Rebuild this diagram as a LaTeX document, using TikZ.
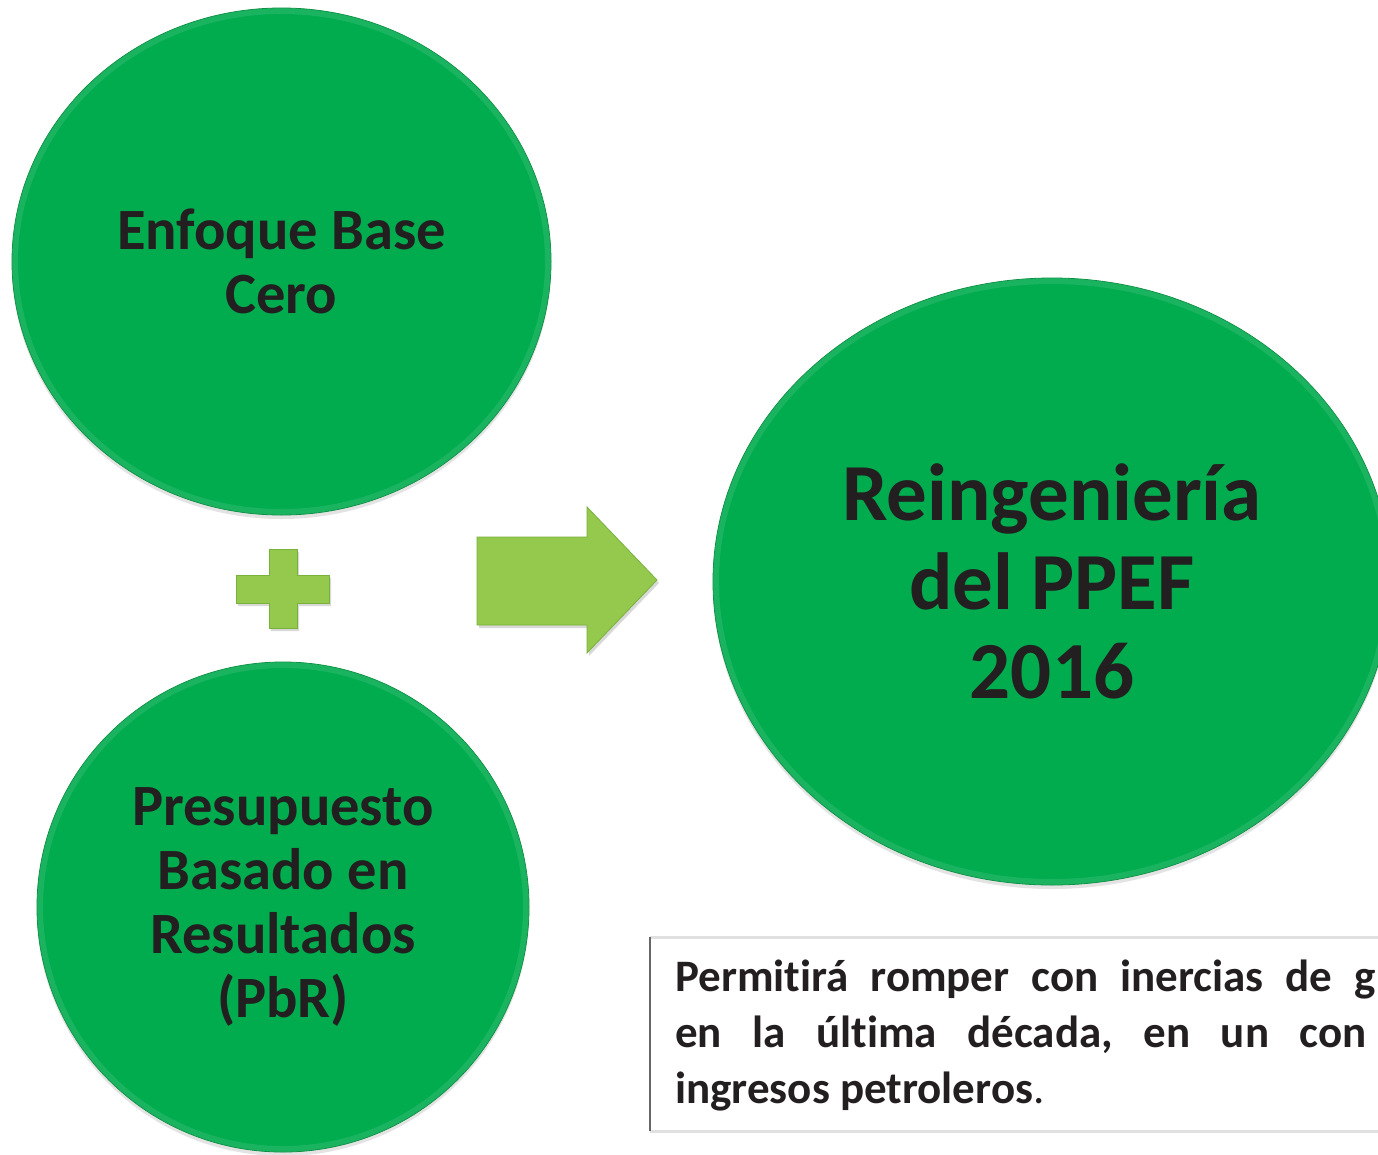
\documentclass[tikz,border=0pt]{standalone}
\usepackage{fontspec}
\setmainfont{Carlito}[Ligatures={NoCommon,NoRare},Contextuals={NoAlternate},RawFeature={-liga;-calt;-dlig;-clig}]
\usetikzlibrary{shapes.geometric,shadows}
\definecolor{cgreen}{RGB}{0,172,78}
\definecolor{cedge}{RGB}{0,140,60}
\definecolor{lgreen}{RGB}{148,201,78}
\definecolor{ledge}{RGB}{120,178,58}
\definecolor{ink}{RGB}{35,31,32}
\begin{document}
\begin{tikzpicture}[x=1pt,y=-1pt,
  bubble/.style={ellipse, fill=cgreen, draw=cedge, line width=0.8pt, inner sep=0pt,
    text=ink, align=center,
    drop shadow={opacity=0.22, shadow xshift=0pt, shadow yshift=-4pt}},
  rim/.style={line width=12pt, color=white, opacity=0.10},
  sign/.style={fill=lgreen, draw=ledge, line width=0.8pt,
    drop shadow={opacity=0.3, shadow xshift=2pt, shadow yshift=-3pt}},
  bodytext/.style={anchor=base west, inner sep=0pt, text=ink,
    font=\bfseries\fontsize{45}{57}\selectfont},
]
\clip (0,0) rectangle (1378,1154);
\fill[white] (0,0) rectangle (1378,1154);

% circles
\node[bubble, minimum width=539pt, minimum height=507pt,
  font=\bfseries\fontsize{58.5}{64}\selectfont] (c1) at (281.5,261.5) {Enfoque Base\\Cero};
\begin{scope}
  \clip (c1.center) ellipse [x radius=269.5, y radius=253.5];
  \draw[rim] (c1.center) ellipse [x radius=269.5, y radius=253.5];
\end{scope}

\node[bubble, minimum width=492pt, minimum height=490pt,
  font=\bfseries\fontsize{58.5}{64}\selectfont] (c2) at (283,907) {Presupuesto\\Basado en\\Resultados\\(PbR)};
\begin{scope}
  \clip (c2.center) ellipse [x radius=246, y radius=245];
  \draw[rim] (c2.center) ellipse [x radius=246, y radius=245];
\end{scope}

\node[bubble, minimum width=678pt, minimum height=607pt,
  font=\bfseries\fontsize{81}{89}\selectfont] (c3) at (1052,581.5) {Reingeniería\\del PPEF\\2016};
\begin{scope}
  \clip (c3.center) ellipse [x radius=339, y radius=303.5];
  \draw[rim] (c3.center) ellipse [x radius=339, y radius=303.5];
\end{scope}

% plus sign
\path[sign] (236,575) -- (269,575) -- (269,549) -- (297,549) -- (297,575) -- (329,575)
  -- (329,603) -- (297,603) -- (297,628) -- (269,628) -- (269,603) -- (236,603) -- cycle;

% block arrow
\path[sign] (477,537) -- (587,537) -- (587,507) -- (657,580) -- (587,653) -- (587,625)
  -- (477,625) -- cycle;

% text box
\coordinate (tbnw) at (650,937);
\coordinate (tbsw) at (650,1131);
\coordinate (tbne) at (1378,937);
\coordinate (tbse) at (1378,1131);
\draw[line width=3pt, black!12] (tbnw) -- (tbne);
\draw[line width=3pt, black!12] (tbsw) -- (tbse);
\draw[line width=2pt, black!60] (tbnw) -- (tbsw);

\node[bodytext] (t1) at (675,991) {Permitirá\hspace{22pt}romper\hspace{22pt}con\hspace{22pt}inercias\hspace{22pt}de\hspace{22pt}g};
\node[bodytext] (t2) at (675,1047) {en\hspace{30.5pt}la\hspace{30.5pt}última\hspace{30.5pt}década,\hspace{30.5pt}en\hspace{30.5pt}un\hspace{30.5pt}con};
\node[bodytext] (t3) at (675,1103) {ingresos petroleros{\mdseries.}};
\end{tikzpicture}
\end{document}
